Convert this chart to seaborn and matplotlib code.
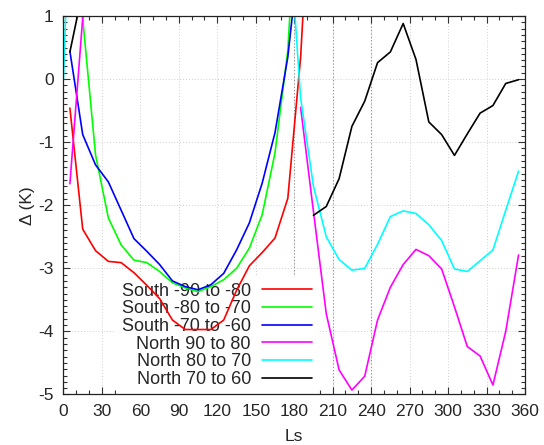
import matplotlib
matplotlib.use("Agg")
import matplotlib.pyplot as plt
from matplotlib.lines import Line2D
from matplotlib.ticker import MultipleLocator
import numpy as np
import pandas as pd
import seaborn as sns

nan = np.nan

# Ls bins (degrees)
ls = [0, 5, 15, 25, 35, 45, 55, 65, 75, 85, 95, 105, 115, 125, 135, 145, 155, 165, 175,
      185, 195, 205, 215, 225, 235, 245, 255, 265, 275, 285, 295, 305, 315, 325, 335, 345, 355]

south_90_80 = [nan, -0.46, -2.38, -2.72, -2.89, -2.91, -3.07, -3.27, -3.48, -3.82, -3.97, -3.97, -3.97,
               -3.82, -3.35, -2.96, -2.75, -2.52, -1.89, 0.35, 4.0,
               nan, nan, nan, nan, nan, nan, nan, nan, nan, nan, nan, nan, nan, nan, nan, nan]
south_80_70 = [nan, 3.0, 0.96, -1.2, -2.2, -2.63, -2.87, -2.91, -3.05, -3.23, -3.31, -3.37, -3.29,
               -3.18, -3.0, -2.68, -2.15, -1.17, 0.45, 4.0,
               nan, nan, nan, nan, nan, nan, nan, nan, nan, nan, nan, nan, nan, nan, nan, nan, nan]
south_70_60 = [nan, 0.44, -0.88, -1.36, -1.63, -2.08, -2.53, -2.73, -2.94, -3.2, -3.29, -3.34, -3.26,
               -3.08, -2.71, -2.28, -1.65, -0.85, 0.35, 2.2,
               nan, nan, nan, nan, nan, nan, nan, nan, nan, nan, nan, nan, nan, nan, nan, nan, nan]
north_90_80 = [nan, -1.66, 0.97, 3.0, nan, nan, nan, nan, nan, nan, nan, nan, nan, nan, nan, nan, nan,
               nan, nan, -0.45, -2.1, -3.72, -4.61, -4.93, -4.71, -3.82, -3.3, -2.94, -2.7, -2.8,
               -3.01, -3.61, -4.24, -4.39, -4.85, -4.0, -2.79]
north_80_70 = [0.0, 3.0, nan, nan, nan, nan, nan, nan, nan, nan, nan, nan, nan, nan, nan, nan, nan,
               nan, 2.65, -0.3, -1.7, -2.5, -2.86, -3.03, -3.0, -2.62, -2.18, -2.09, -2.13, -2.31,
               -2.56, -3.01, -3.05, -2.88, -2.71, -2.08, -1.46]
north_70_60 = [nan, 0.43, 1.4, nan, nan, nan, nan, nan, nan, nan, nan, nan, nan, nan, nan, nan, nan,
               nan, nan, nan, -2.16, -2.02, -1.58, -0.75, -0.35, 0.26, 0.43, 0.88, 0.31, -0.68,
               -0.88, -1.21, -0.87, -0.54, -0.42, -0.07, -0.01]

labels = ["South -90 to -80", "South -80 to -70", "South -70 to -60",
          "North 90 to 80", "North 80 to 70", "North 70 to 60"]
series = [south_90_80, south_80_70, south_70_60, north_90_80, north_80_70, north_70_60]
colors = ["#ff0000", "#00ff00", "#0000ff", "#ff00ff", "#00ffff", "#000000"]

# long table, one segment id per unbroken run of values
rows = []
for lab, vals in zip(labels, series):
    seg = 0
    prev_ok = False
    for x, v in zip(ls, vals):
        ok = not np.isnan(v)
        if ok and not prev_ok:
            seg += 1
        if ok:
            rows.append({"Ls": x, "delta": v, "series": lab, "seg": f"{lab}-{seg}"})
        prev_ok = ok
df = pd.DataFrame(rows)

sns.set_style("ticks")
plt.rcParams["font.family"] = ["Liberation Sans", "DejaVu Sans"]
plt.rcParams["font.size"] = 12.5
plt.rcParams["axes.unicode_minus"] = False

fig = plt.figure(figsize=(5.44, 4.45), dpi=100)
ax = fig.add_axes([0.1167, 0.1135, 0.8483, 0.8506])

# grid and season markers
for x in range(0, 361, 30):
    ax.axvline(x, color="#d0d0d0", lw=0.7, ls=(0, (1, 2)), zorder=0)
for y in range(-5, 2):
    ax.axhline(y, color="#d0d0d0", lw=0.7, ls=(0, (1, 2)), zorder=0)
for x in [180, 210, 240]:
    ax.axvline(x, color="#909090", lw=0.8, ls=(0, (1, 2)), zorder=0.5)

sns.lineplot(data=df, x="Ls", y="delta", hue="series", units="seg", estimator=None,
             hue_order=labels, palette=colors, sort=False, lw=1.2, legend=False, ax=ax,
             zorder=2)

ax.set_xlim(0, 360)
ax.set_ylim(-5, 1)
ax.xaxis.set_major_locator(MultipleLocator(30))
ax.xaxis.set_minor_locator(MultipleLocator(10))
ax.yaxis.set_major_locator(MultipleLocator(1))
ax.yaxis.set_minor_locator(MultipleLocator(0.1))
ax.tick_params(which="both", direction="in", top=True, right=True, color="#333333")
ax.tick_params(which="major", length=5, width=0.8, pad=7, labelsize=12.5)
ax.tick_params(which="minor", length=3, width=0.8)
for s in ax.spines.values():
    s.set_color("#222222")
    s.set_linewidth(0.9)

ax.set_xlabel("Ls", fontsize=12.5, labelpad=7)
ax.set_ylabel("Δ (K)", fontsize=12.5, labelpad=2)

handles = [Line2D([], [], color=c, lw=1.2) for c in colors]
leg = ax.legend(handles, labels, loc="lower right", bbox_to_anchor=(0.553, 0.0),
                markerfirst=False, frameon=True, framealpha=1, facecolor="white",
                edgecolor="none", fancybox=False, fontsize=13, handlelength=2.8,
                handletextpad=0.6, labelspacing=0.04, borderaxespad=0.05, borderpad=0.3)
leg.set_zorder(1)

fig.savefig("out.png", dpi=100)
